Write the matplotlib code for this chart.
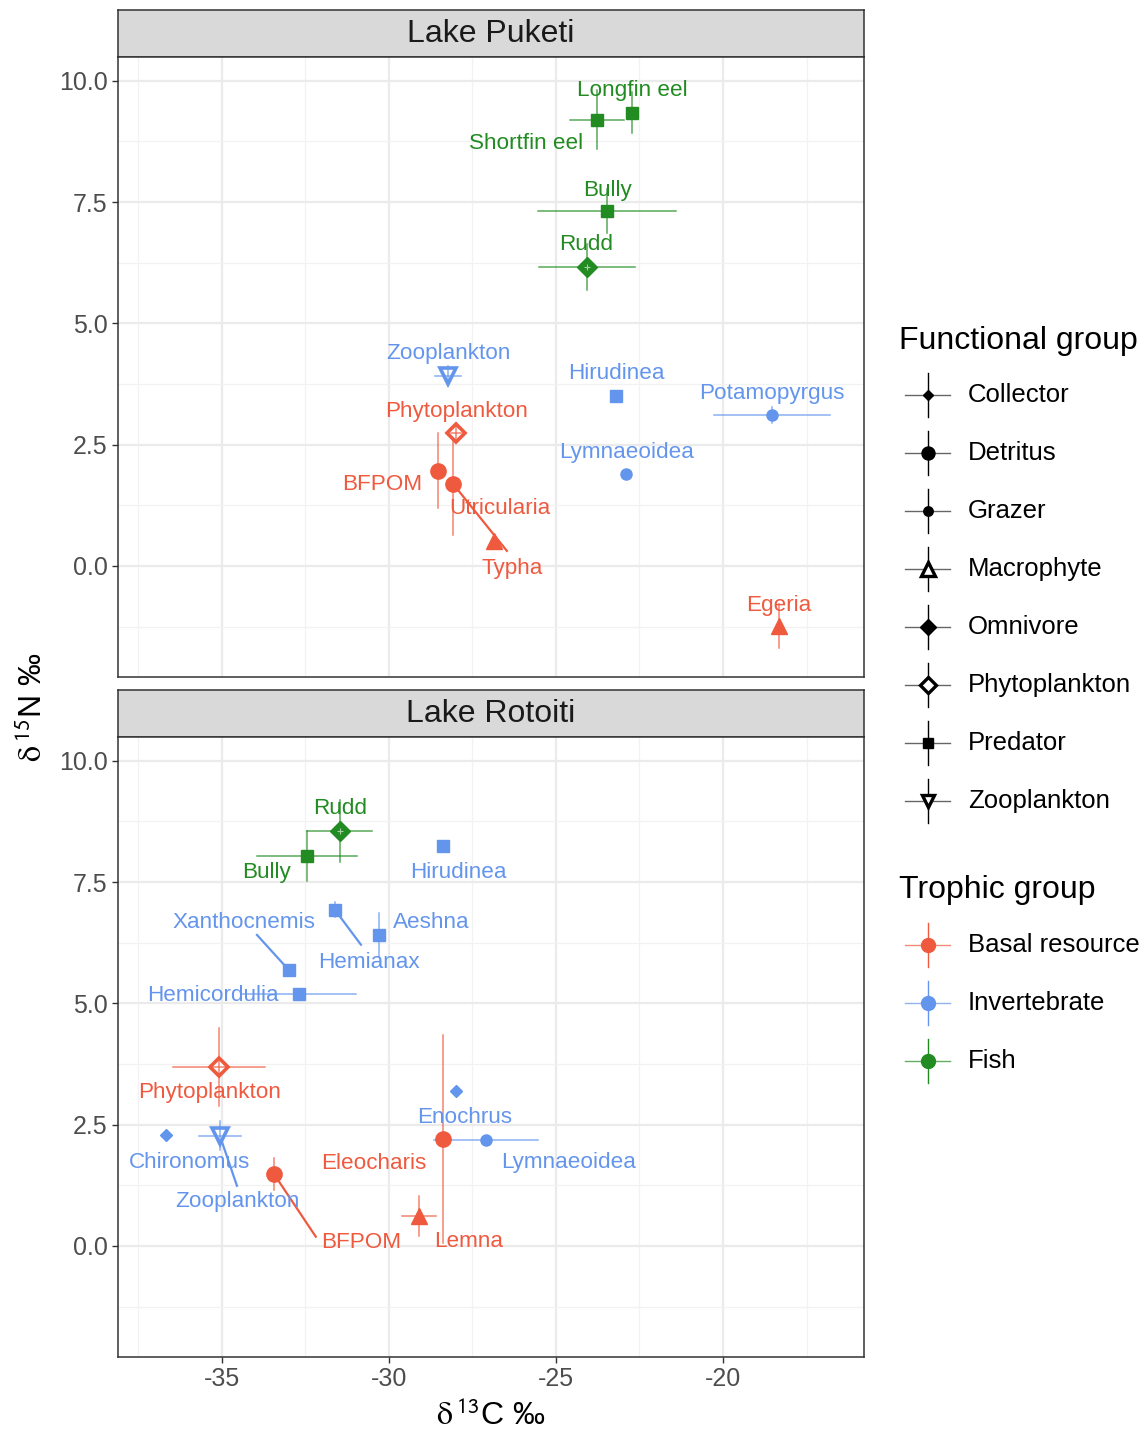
import matplotlib.pyplot as plt
from matplotlib.ticker import MultipleLocator

plt.rcParams['font.family'] = ['Liberation Sans', 'DejaVu Sans']
plt.rcParams['mathtext.fontset'] = 'stix'

# ---- data: Lake Puketi ----
puk_names = ["Longfin eel", "Shortfin eel", "Bully", "Rudd", "Zooplankton", "Hirudinea",
             "Potamopyrgus", "Lymnaeoidea", "Phytoplankton", "BFPOM", "Utricularia",
             "Typha", "Egeria"]
puk_trophic = ["Fish", "Fish", "Fish", "Fish", "Invertebrate", "Invertebrate",
               "Invertebrate", "Invertebrate", "Basal resource", "Basal resource",
               "Basal resource", "Basal resource", "Basal resource"]
puk_func = ["Predator", "Predator", "Predator", "Omnivore", "Zooplankton", "Predator",
            "Grazer", "Grazer", "Phytoplankton", "Detritus", "Detritus",
            "Macrophyte", "Macrophyte"]
puk_c = [-22.72, -23.77, -23.47, -24.07, -28.23, -23.2, -18.53, -22.9, -27.99, -28.53,
         -28.08, -26.86, -18.32]
puk_n = [9.34, 9.2, 7.32, 6.16, 3.92, 3.5, 3.11, 1.9, 2.74, 1.96, 1.69, 0.52, -1.24]
puk_c_sd = [0, 0.8, 2.07, 1.43, 0.4, 0, 1.74, 0, 0.15, 0, 0, 0, 0]
puk_n_sd = [0.42, 0.6, 0.45, 0.48, 0.2, 0, 0.17, 0, 0.12, 0.77, 1.05, 0, 0.45]

# ---- data: Lake Rotoiti ----
rot_names = ["Rudd", "Bully", "Hirudinea", "Hemianax", "Aeshna", "Xanthocnemis",
             "Hemicordulia", "Phytoplankton", "Enochrus", "Chironomus", "Zooplankton",
             "Eleocharis", "Lymnaeoidea", "BFPOM", "Lemna"]
rot_trophic = ["Fish", "Fish", "Invertebrate", "Invertebrate", "Invertebrate",
               "Invertebrate", "Invertebrate", "Basal resource", "Invertebrate",
               "Invertebrate", "Invertebrate", "Basal resource", "Invertebrate",
               "Basal resource", "Basal resource"]
rot_func = ["Omnivore", "Predator", "Predator", "Predator", "Predator", "Predator",
            "Predator", "Phytoplankton", "Collector", "Collector", "Zooplankton",
            "Detritus", "Grazer", "Detritus", "Macrophyte"]
rot_c = [-31.47, -32.46, -28.38, -31.62, -30.3, -33.0, -32.69, -35.09, -27.99, -36.68,
         -35.06, -28.38, -27.1, -33.44, -29.1]
rot_n = [8.56, 8.04, 8.25, 6.93, 6.41, 5.69, 5.2, 3.69, 3.2, 2.29, 2.27, 2.21, 2.19,
         1.48, 0.62]
rot_c_sd = [0.97, 1.5, 0, 0, 0, 0, 1.7, 1.37, 0, 0, 0.62, 0, 1.55, 0, 0.5]
rot_n_sd = [0.64, 0.52, 0, 0.15, 0.45, 0, 0, 0.8, 0, 0, 0.3, 2.14, 0, 0.33, 0.41]

trophic_levels = ["Basal resource", "Invertebrate", "Fish"]
func_levels = ["Collector", "Detritus", "Grazer", "Macrophyte", "Omnivore",
               "Phytoplankton", "Predator", "Zooplankton"]

# label placement (repelled text positions, data units) and optional leader end
puk_labels = {
    "Longfin eel": (-22.72, 9.84), "Shortfin eel": (-25.9, 8.76), "Bully": (-23.47, 7.79),
    "Rudd": (-24.1, 6.66), "Zooplankton": (-28.23, 4.43), "Hirudinea": (-23.2, 4.0),
    "Potamopyrgus": (-18.53, 3.59), "Phytoplankton": (-27.99, 3.22),
    "Lymnaeoidea": (-22.9, 2.39), "BFPOM": (-30.21, 1.73), "Utricularia": (-26.68, 1.22),
    "Typha": (-26.32, -0.02), "Egeria": (-18.32, -0.78),
}
puk_leaders = {"Utricularia": (-26.47, 0.31)}
rot_labels = {
    "Rudd": (-31.47, 9.05), "Bully": (-33.65, 7.73), "Hirudinea": (-27.93, 7.75),
    "Xanthocnemis": (-34.34, 6.70), "Aeshna": (-28.74, 6.70), "Hemianax": (-30.6, 5.88),
    "Hemicordulia": (-35.27, 5.2), "Phytoplankton": (-35.36, 3.2),
    "Enochrus": (-27.72, 2.68), "Chironomus": (-35.96, 1.77),
    "Eleocharis": (-30.45, 1.75), "Lymnaeoidea": (-24.61, 1.77),
    "Zooplankton": (-34.52, 0.95), "BFPOM": (-30.84, 0.12), "Lemna": (-27.6, 0.14),
}
rot_leaders = {"Xanthocnemis": (-33.95, 6.41), "Hemianax": (-30.84, 6.21),
               "Zooplankton": (-34.55, 1.24), "BFPOM": (-32.19, 0.19)}

# ---- styles ----
colors = {"Basal resource": "#EF5A3F", "Invertebrate": "#6495ED", "Fish": "#228B22"}
shapes = {
    "Collector": dict(marker="D", ms=6.5, filled=True),
    "Detritus": dict(marker="o", ms=11, filled=True),
    "Grazer": dict(marker="o", ms=8, filled=True),
    "Macrophyte": dict(marker="^", ms=12, filled=True),
    "Omnivore": dict(marker="D", ms=10, filled=True),
    "Phytoplankton": dict(marker="D", ms=9, filled=False),
    "Predator": dict(marker="s", ms=8, filled=True),
    "Zooplankton": dict(marker="v", ms=11, filled=False),
}

W, H = 1147, 1437
fig = plt.figure(figsize=(W / 100, H / 100), dpi=100)


def fx(px):
    return px / W


def fy(py):
    return 1 - py / H


def draw_panel(top, title, names, trophic, func, c, n, c_sd, n_sd, labels, leaders, show_x):
    strip = fig.add_axes([fx(118), fy(top + 47), fx(864) - fx(118), 47 / H])
    ax = fig.add_axes([fx(118), fy(top + 47 + 620), fx(864) - fx(118), 620 / H])
    strip.set_facecolor("#D9D9D9")
    strip.set_xticks([])
    strip.set_yticks([])
    for s in strip.spines.values():
        s.set_color("#333333")
        s.set_linewidth(1.1)
    strip.text(0.5, 0.48, title, ha="center", va="center", fontsize=23, color="#1A1A1A",
               transform=strip.transAxes)

    ax.set_xlim(-38.11, -15.78)
    ax.set_ylim(-2.29, 10.49)
    ax.xaxis.set_major_locator(MultipleLocator(5))
    ax.xaxis.set_minor_locator(MultipleLocator(2.5))
    ax.yaxis.set_major_locator(MultipleLocator(2.5))
    ax.yaxis.set_minor_locator(MultipleLocator(1.25))
    ax.grid(which="major", color="#EBEBEB", lw=1.6)
    ax.grid(which="minor", color="#F2F2F2", lw=0.9)
    ax.set_axisbelow(True)
    ax.tick_params(which="minor", length=0)
    ax.tick_params(which="major", length=4, width=1, color="#333333",
                   labelsize=18, labelcolor="#4D4D4D")
    ax.yaxis.set_major_formatter(plt.FuncFormatter(lambda v, p: f"{v:.1f}"))
    ax.xaxis.set_major_formatter(plt.FuncFormatter(lambda v, p: f"{v:.0f}"))
    if not show_x:
        ax.tick_params(axis="x", labelbottom=False, length=0)
    for s in ax.spines.values():
        s.set_color("#333333")
        s.set_linewidth(1.1)

    for i, name in enumerate(names):
        col = colors[trophic[i]]
        sp = shapes[func[i]]
        # error lines show through open markers, sit behind filled ones
        ez = 4 if not sp["filled"] else 2
        if c_sd[i] > 0:
            ax.plot([c[i] - c_sd[i], c[i] + c_sd[i]], [n[i], n[i]], color=col, lw=1.1,
                    alpha=0.75, zorder=ez)
        if n_sd[i] > 0:
            ax.plot([c[i], c[i]], [n[i] - n_sd[i], n[i] + n_sd[i]], color=col, lw=1.1,
                    alpha=0.75, zorder=ez)
        if sp["filled"]:
            ax.plot(c[i], n[i], marker=sp["marker"], ms=sp["ms"], color=col, mec=col,
                    ls="none", zorder=3)
        else:
            ax.plot(c[i], n[i], marker=sp["marker"], ms=sp["ms"], mfc="white", mec=col,
                    mew=2.6, ls="none", zorder=3)
        if func[i] == "Omnivore":
            ax.plot(c[i], n[i], marker="+", ms=sp["ms"] * 0.45, color="white", mew=0.8,
                    alpha=0.6, ls="none", zorder=4)
        lx, ly = labels[name]
        if name in leaders:
            ex, ey = leaders[name]
            ax.plot([c[i], ex], [n[i], ey], color=col, lw=1.6, zorder=2)
        ax.annotate(name, (lx, ly), xytext=(0, -1.5), textcoords="offset points",
                    color=col, fontsize=16.2, ha="center", va="center", zorder=5)
    return ax


draw_panel(10, "Lake Puketi", puk_names, puk_trophic, puk_func, puk_c, puk_n, puk_c_sd,
           puk_n_sd, puk_labels, puk_leaders, show_x=False)
draw_panel(690, "Lake Rotoiti", rot_names, rot_trophic, rot_func, rot_c, rot_n, rot_c_sd,
           rot_n_sd, rot_labels, rot_leaders, show_x=True)

fig.text(fx(491), fy(1416), r"$\mathrm{\delta}\,^{\mathsf{13}}$C ‰", ha="center",
         va="center", fontsize=23, color="black")
fig.text(fx(33), fy(707), r"$\mathrm{\delta}\,^{\mathsf{15}}$N ‰", ha="center",
         va="center", fontsize=23, color="black", rotation=90)

# ---- legends (drawn in figure pixel space) ----
leg = fig.add_axes([0, 0, 1, 1], facecolor="none")
leg.set_xlim(0, W)
leg.set_ylim(H, 0)
leg.axis("off")

leg.text(899, 341, "Functional group", fontsize=23, va="center", ha="left")
for k, f in enumerate(func_levels):
    y = 395 + 58 * k
    leg.plot([905, 950], [y, y], color="black", lw=1.0, alpha=0.6)
    leg.plot([928, 928], [y - 22, y + 22], color="black", lw=1.0)
    sp = shapes[f]
    if f == "Macrophyte" or not sp["filled"]:
        leg.plot(928, y, marker=sp["marker"], ms=sp["ms"] * 0.85, mfc="white", mec="black",
                 mew=2.4, ls="none")
    else:
        leg.plot(928, y, marker=sp["marker"], ms=sp["ms"] * 0.85, color="black", ls="none")
    leg.text(968, y, f, fontsize=18.5, va="center", ha="left")

leg.text(899, 890, "Trophic group", fontsize=23, va="center", ha="left")
for k, t in enumerate(trophic_levels):
    y = 945 + 58 * k
    col = colors[t]
    leg.plot([905, 950], [y, y], color=col, lw=1.0, alpha=0.7)
    leg.plot([928, 928], [y - 22, y + 22], color=col, lw=1.0)
    leg.plot(928, y, marker="o", ms=10, color=col, ls="none")
    leg.text(968, y, t, fontsize=18.5, va="center", ha="left")

fig.savefig("out.png", dpi=100)
